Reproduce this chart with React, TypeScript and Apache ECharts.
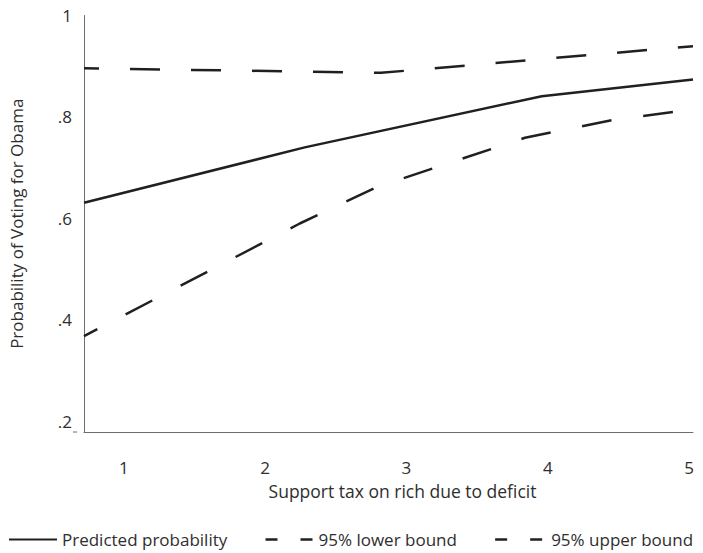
import React, { useEffect, useRef } from "react";
import * as echarts from "echarts";

const xTicks = [1, 2, 3, 4, 5];
const yTicks = [0.2, 0.4, 0.6, 0.8, 1];

const predX = [0.718, 2.28, 3.958, 5.028];
const predY = [0.631, 0.74, 0.841, 0.874];

const lowerX = [0.718, 2.245, 2.783, 3.839, 4.462, 5.028];
const lowerY = [0.368, 0.59, 0.661, 0.759, 0.794, 0.815];

const upperX = [0.718, 2.82, 5.028];
const upperY = [0.896, 0.887, 0.9395];

const seriesNames = ["Predicted probability", "95% lower bound", "95% upper bound"];

const FONT = "Open Sans";
const INK = "#231f20";
const TEXT = "#2e2e2e";

const zip = (xs: number[], ys: number[]) => xs.map((x, i) => [x, ys[i]]);

const hiddenSymbol = { color: "transparent", borderColor: "transparent", borderWidth: 0, opacity: 0 };

export default function App() {
  const ref = useRef<HTMLDivElement>(null);
  useEffect(() => {
    if (!ref.current) return;
    const chart = echarts.init(ref.current, undefined, { renderer: "svg" });
    chart.setOption({
      animation: false,
      backgroundColor: "#ffffff",
      textStyle: { fontFamily: FONT, color: TEXT },
      grid: { left: 77, right: 10, top: 15.5, bottom: 121, containLabel: false },
      xAxis: {
        type: "value",
        min: 0.718,
        max: 5.028,
        name: "Support tax on rich due to deficit",
        nameLocation: "middle",
        nameGap: 50,
        nameTextStyle: { fontFamily: FONT, fontSize: 17.5, color: TEXT, padding: [0, 0, 0, 28] },
        axisLine: { show: true, onZero: false, lineStyle: { color: "#6d6d6d", width: 1 } },
        axisTick: { show: false },
        splitLine: { show: false },
        axisLabel: {
          customValues: xTicks,
          margin: 27,
          fontFamily: FONT,
          fontSize: 17,
          color: TEXT,
          formatter: (v: number) => String(v),
        },
      },
      yAxis: {
        type: "value",
        min: 0.179,
        max: 1,
        name: "Probability of Voting for Obama",
        nameLocation: "middle",
        nameGap: 59,
        nameTextStyle: { fontFamily: FONT, fontSize: 17, color: TEXT },
        axisLine: { show: true, onZero: false, lineStyle: { color: "#6d6d6d", width: 1 } },
        axisTick: { show: false },
        splitLine: { show: false },
        axisLabel: {
          customValues: yTicks,
          margin: 12,
          fontFamily: FONT,
          fontSize: 17,
          color: TEXT,
          formatter: (v: number) => (Math.abs(v - 1) < 1e-9 ? "1" : "." + Math.round(v * 10)),
        },
      },
      legend: {
        left: 8,
        top: 531,
        width: 700,
        padding: 0,
        itemWidth: 48,
        itemHeight: 20,
        itemGap: 37,
        itemStyle: hiddenSymbol,
        textStyle: { fontFamily: FONT, fontSize: 17, color: TEXT },
        data: [
          { name: seriesNames[0], itemStyle: hiddenSymbol, textStyle: { padding: [0, 0, 0, 0] } },
          {
            name: seriesNames[1],
            itemStyle: hiddenSymbol,
            lineStyle: { type: [12, 23], width: 2.5, dashOffset: 0 },
            textStyle: { padding: [0, 6, 10, 0] },
          },
          {
            name: seriesNames[2],
            itemStyle: hiddenSymbol,
            lineStyle: { type: [12, 23], width: 2.5, dashOffset: 0 },
            textStyle: { padding: [0, 0, 10, 3] },
          },
        ],
      },
      graphic: [
        {
          type: "line",
          shape: { x1: 73, y1: 432, x2: 77, y2: 432 },
          style: { stroke: "#6d6d6d", lineWidth: 1 },
        },
      ],
      series: [
        {
          name: seriesNames[0],
          type: "line",
          data: zip(predX, predY),
          symbol: "none",
          lineStyle: { color: INK, width: 2.5, type: "solid" },
          itemStyle: { color: INK },
        },
        {
          name: seriesNames[1],
          type: "line",
          data: zip(lowerX, lowerY),
          symbol: "none",
          lineStyle: { color: INK, width: 2.5, type: [30, 32], dashOffset: 15 },
          itemStyle: { color: INK },
        },
        {
          name: seriesNames[2],
          type: "line",
          data: zip(upperX, upperY),
          symbol: "none",
          lineStyle: { color: INK, width: 2.5, type: [30, 31], dashOffset: 15 },
          itemStyle: { color: INK },
        },
      ],
    });
    return () => chart.dispose();
  }, []);
  return (
    <div
      ref={ref}
      style={{ position: "fixed", left: 0, top: 0, width: 703, height: 553, background: "#fff" }}
    />
  );
}
